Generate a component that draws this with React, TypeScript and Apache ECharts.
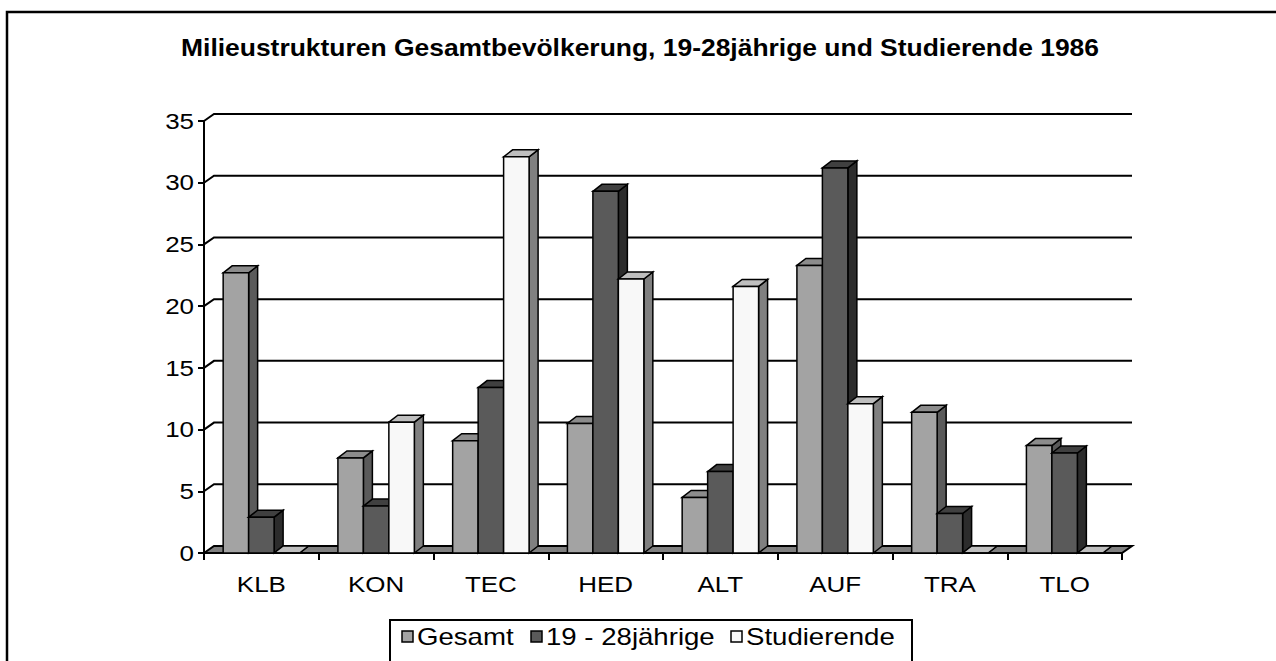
import React, { useEffect, useRef } from "react";
import * as echarts from "echarts";

const categories = ["KLB", "KON", "TEC", "HED", "ALT", "AUF", "TRA", "TLO"];
const gesamt = [22.7, 7.7, 9.1, 10.5, 4.5, 23.3, 11.4, 8.7];
const jaehrige = [2.9, 3.8, 13.4, 29.3, 6.6, 31.2, 3.2, 8.1];
const studierende = [0, 10.6, 32.1, 22.2, 21.6, 12.1, 0, 0];
const yTicks = [0, 5, 10, 15, 20, 25, 30, 35];
const seriesNames = ["Gesamt", "19 - 28jährige", "Studierende"];
const titleText = "Milieustrukturen Gesamtbevölkerung, 19-28jährige und Studierende 1986";

const FONT = "'Liberation Sans', Arial, sans-serif";
const palette = [
  { front: "#a3a3a3", top: "#8c8c8c", side: "#5a5a5a" },
  { front: "#5a5a5a", top: "#404040", side: "#2c2c2c" },
  { front: "#f8f8f8", top: "#bfbfbf", side: "#808080" },
];
const BAR_DX = 9;
const BAR_DY = -7;
const WALL_DX = 10;
const WALL_DY = -7;
const STRETCH = 1.18;

function barSeries(name: string, values: number[], k: number) {
  const col = palette[k];
  return {
    name,
    type: "custom",
    itemStyle: { color: col.front, borderColor: "#000", borderWidth: 1.5 },
    data: values.map((v, i) => [i, v]),
    encode: { x: 0, y: 1 },
    renderItem: (params: any, api: any) => {
      const i = api.value(0);
      const v = api.value(1);
      const top = api.coord([i, v]);
      const base = api.coord([i, 0]);
      const band = api.size([1, 0])[0];
      const w = 0.222 * band;
      const x0 = top[0] - 1.5 * w + k * w;
      const x1 = x0 + w;
      const yt = top[1];
      const yb = base[1];
      const stroke = { stroke: "#000", lineWidth: 1.5, lineJoin: "miter" };
      return {
        type: "group",
        children: [
          {
            type: "polygon",
            shape: {
              points: [
                [x1, yt],
                [x1 + BAR_DX, yt + BAR_DY],
                [x1 + BAR_DX, yb + BAR_DY],
                [x1, yb],
              ],
            },
            style: { fill: col.side, ...stroke },
          },
          {
            type: "polygon",
            shape: {
              points: [
                [x0, yt],
                [x0 + BAR_DX, yt + BAR_DY],
                [x1 + BAR_DX, yt + BAR_DY],
                [x1, yt],
              ],
            },
            style: { fill: col.top, ...stroke },
          },
          {
            type: "rect",
            shape: { x: x0, y: yt, width: w, height: yb - yt },
            style: { fill: col.front, ...stroke },
          },
        ],
      };
    },
  };
}

export default function App() {
  const ref = useRef<HTMLDivElement>(null);
  useEffect(() => {
    if (!ref.current) return;
    const chart = echarts.init(ref.current, null, { renderer: "svg" });
    const wallSeries = {
      name: "walls",
      type: "custom",
      silent: true,
      data: yTicks.map((v) => [0, v]),
      encode: { x: 0, y: 1 },
      renderItem: (params: any, api: any) => {
        const v = api.value(1);
        const c = api.coord([0, v]);
        const band = api.size([1, 0])[0];
        const ax = c[0] - band / 2;
        const rx = ax + categories.length * band;
        const y = c[1];
        const label = {
          type: "text",
          x: ax - 10,
          y: y,
          scaleX: STRETCH,
          style: {
            text: String(yTicks[params.dataIndex]),
            fontFamily: FONT,
            fontSize: 22,
            fill: "#000",
            align: "right",
            verticalAlign: "middle",
          },
        };
        if (v === 0) {
          return {
            type: "group",
            children: [
              {
                type: "polygon",
                shape: {
                  points: [
                    [ax, y],
                    [ax + WALL_DX, y + WALL_DY],
                    [rx + WALL_DX, y + WALL_DY],
                    [rx, y],
                  ],
                },
                style: { fill: "#808080", stroke: "#000", lineWidth: 2 },
              },
              label,
            ],
          };
        }
        return {
          type: "group",
          children: [
            {
              type: "polyline",
              shape: {
                points: [
                  [ax, y],
                  [ax + WALL_DX, y + WALL_DY],
                  [rx + WALL_DX, y + WALL_DY],
                ],
              },
              style: { fill: "none", stroke: "#000", lineWidth: 2 },
            },
            label,
          ],
        };
      },
    };
    const xLabelSeries = {
      name: "xlabels",
      type: "custom",
      silent: true,
      data: categories.map((c, i) => [i, 0]),
      encode: { x: 0, y: 1 },
      renderItem: (params: any, api: any) => {
        const c = api.coord([api.value(0), 0]);
        return {
          type: "text",
          x: c[0],
          y: c[1] + 31,
          scaleX: STRETCH,
          style: {
            text: categories[params.dataIndex],
            fontFamily: FONT,
            fontSize: 22,
            fill: "#000",
            align: "center",
            verticalAlign: "middle",
          },
        };
      },
    };

    // legend layout
    const legendItems: any[] = [];
    const iconX = [402, 531, 731];
    const textX = [417, 546, 746];
    const legendY = 637;
    seriesNames.forEach((n, k) => {
      legendItems.push({
        type: "rect",
        shape: { x: iconX[k], y: legendY - 6, width: 11, height: 11 },
        style: { fill: palette[k].front, stroke: "#000", lineWidth: 1.5 },
      });
      legendItems.push({
        type: "text",
        x: textX[k],
        y: legendY,
        scaleX: 1.2,
        style: {
          text: n,
          fontFamily: FONT,
          fontSize: 23,
          fill: "#000",
          align: "left",
          verticalAlign: "middle",
        },
      });
    });

    chart.setOption({
      animation: false,
      backgroundColor: "#fff",
      textStyle: { fontFamily: FONT, color: "#000" },
      grid: { left: 204, top: 121, width: 918, height: 432, containLabel: false },
      xAxis: {
        type: "category",
        data: categories,
        axisLine: { show: true, lineStyle: { color: "#000", width: 2 } },
        axisTick: { show: true, length: 7, lineStyle: { color: "#000", width: 2 } },
        axisLabel: { show: false },
        splitLine: { show: false },
      },
      yAxis: {
        type: "value",
        min: 0,
        max: 35,
        interval: 5,
        axisLine: { show: true, lineStyle: { color: "#000", width: 2 } },
        axisTick: { show: true, length: 6, lineStyle: { color: "#000", width: 2 } },
        axisLabel: { show: false },
        splitLine: { show: false },
      },
      graphic: [
        {
          type: "polyline",
          shape: { points: [[7, 720], [7, 12], [1300, 12]] },
          style: { fill: "none", stroke: "#000", lineWidth: 2.5 },
        },
        {
          type: "text",
          x: 640,
          y: 48,
          scaleX: 1.15,
          style: {
            text: titleText,
            fontFamily: FONT,
            fontSize: 23,
            fontWeight: "bold",
            fill: "#000",
            align: "center",
            verticalAlign: "middle",
          },
        },
        {
          type: "rect",
          shape: { x: 390, y: 620, width: 522, height: 100 },
          style: { fill: "#fff", stroke: "#000", lineWidth: 2 },
        },
        ...legendItems,
      ],
      series: [
        wallSeries,
        barSeries(seriesNames[0], gesamt, 0),
        barSeries(seriesNames[1], jaehrige, 1),
        barSeries(seriesNames[2], studierende, 2),
        xLabelSeries,
      ],
    });
    return () => chart.dispose();
  }, []);
  return (
    <div
      ref={ref}
      style={{ position: "fixed", left: 0, top: 0, width: 1276, height: 661, background: "#fff" }}
    />
  );
}
